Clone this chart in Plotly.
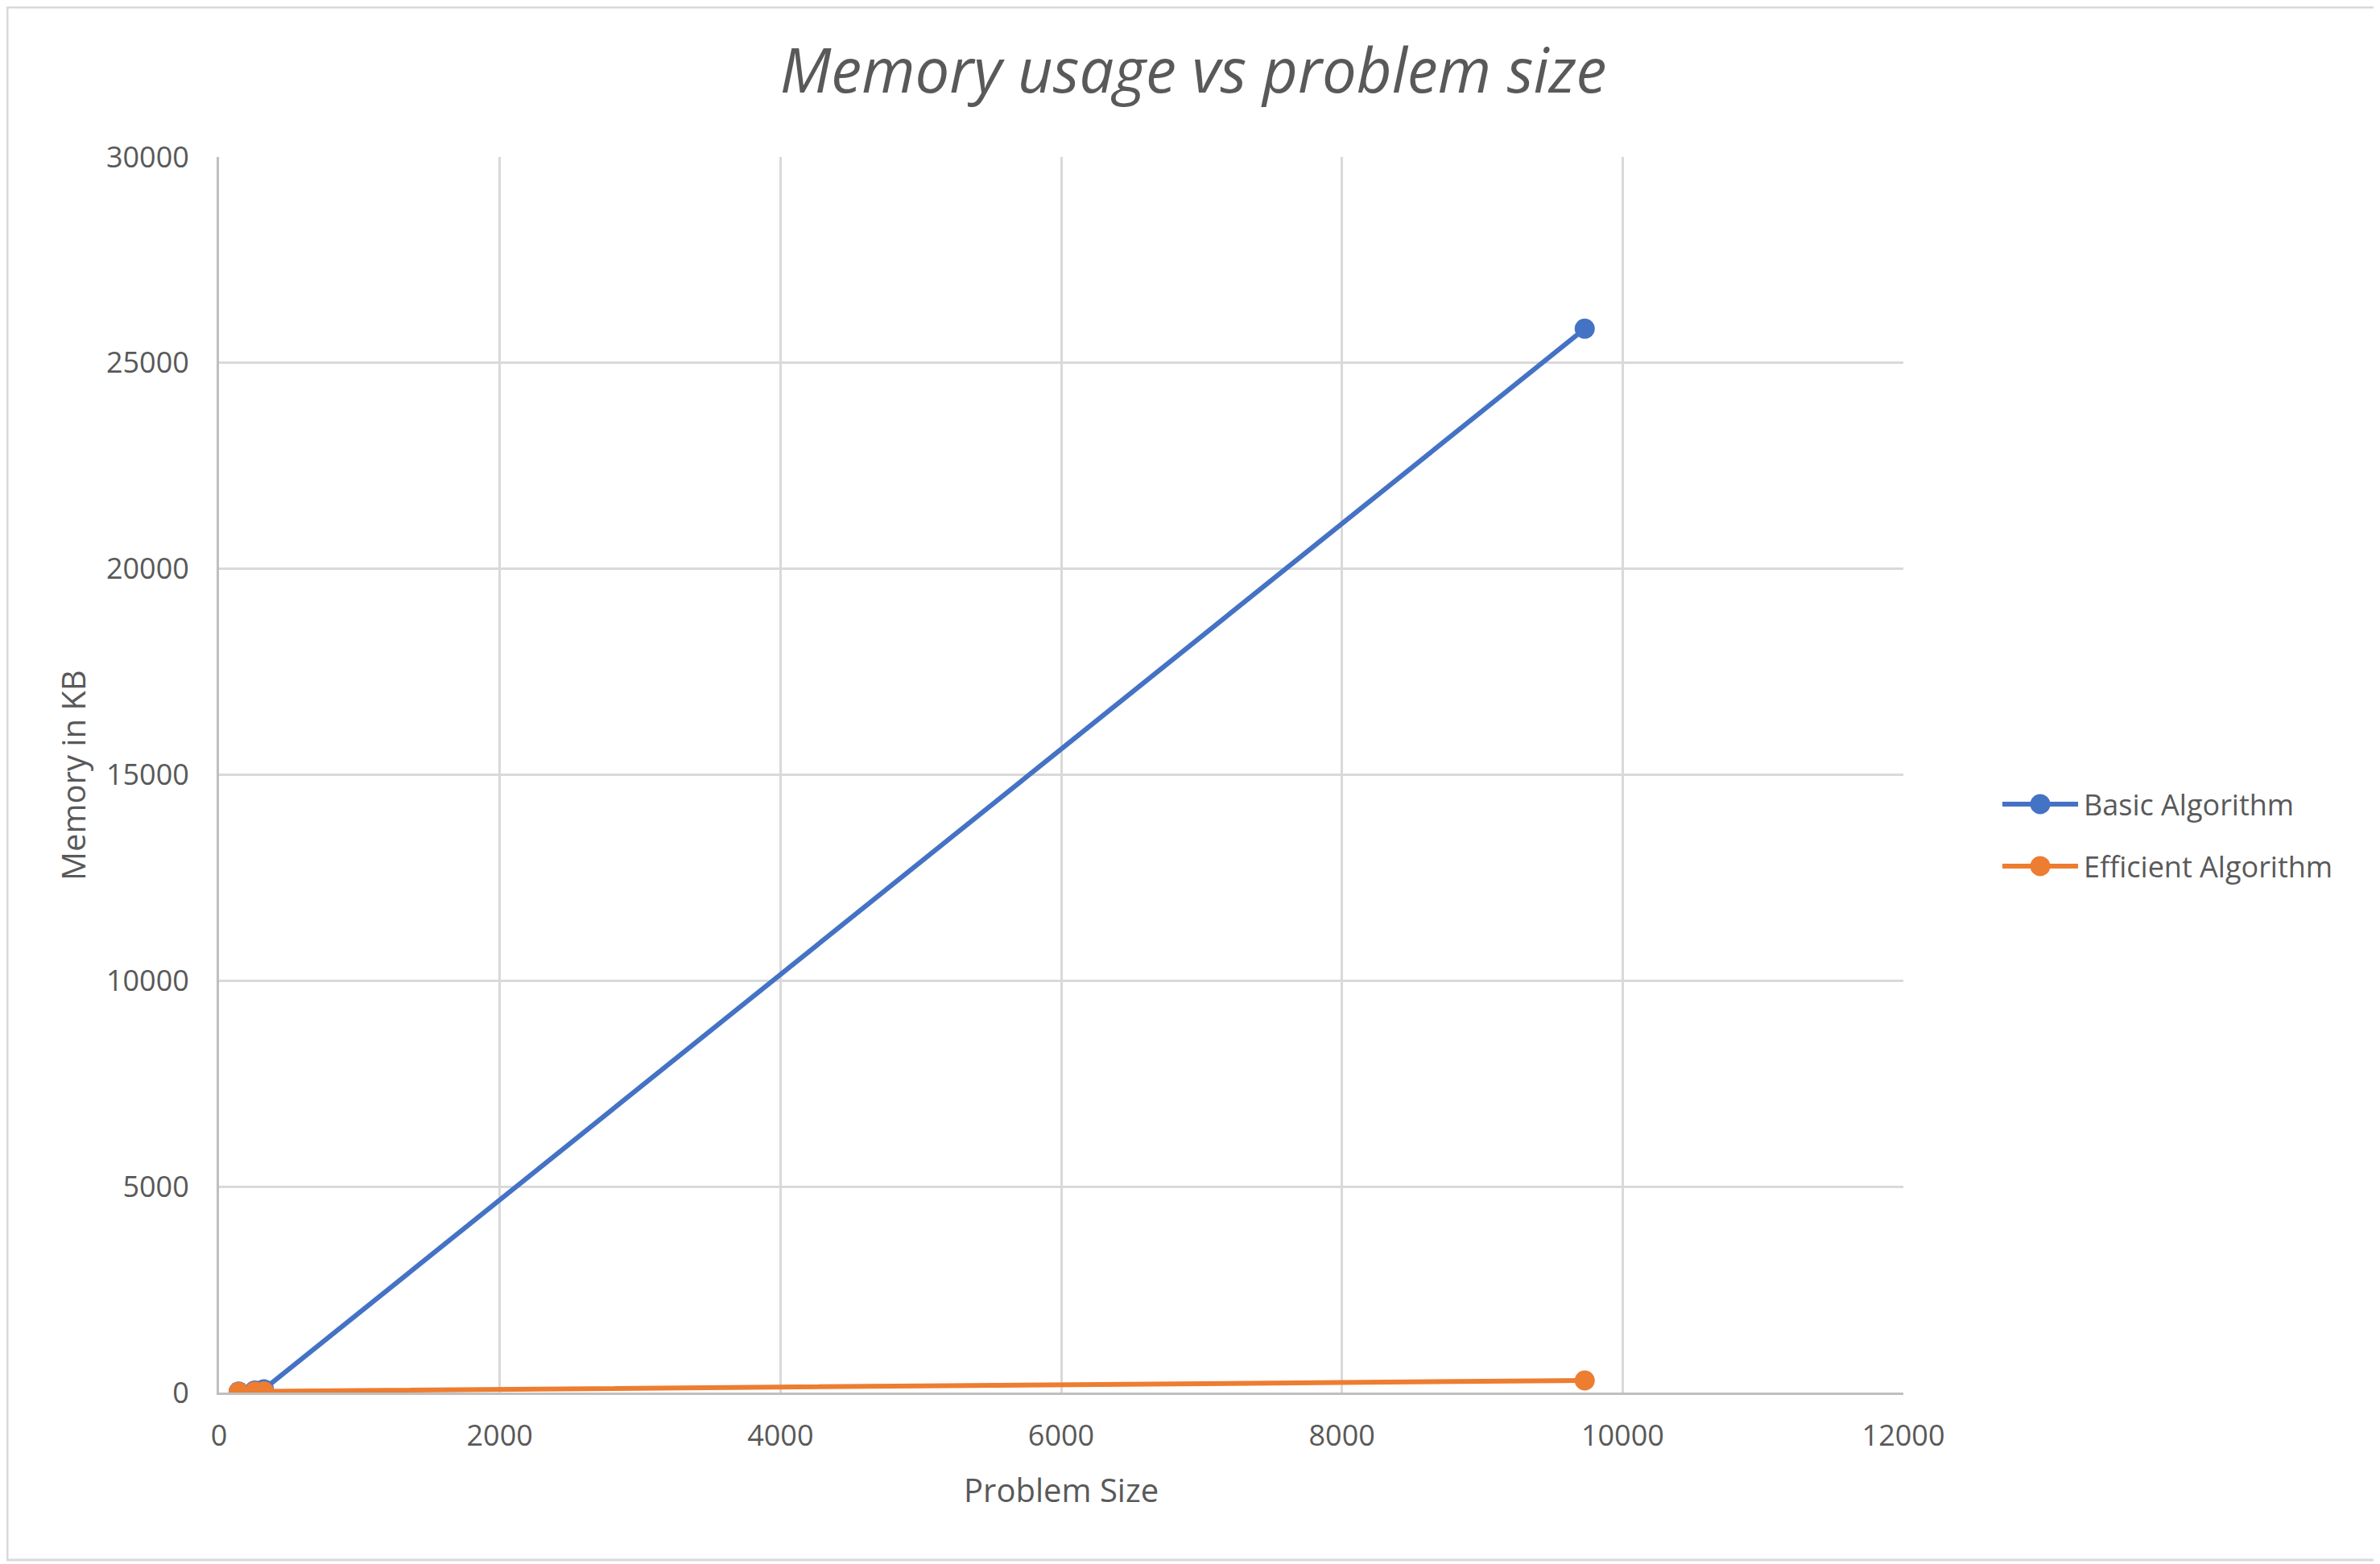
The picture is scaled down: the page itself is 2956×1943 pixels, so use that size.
import plotly.graph_objects as go

problem_size = [140, 255, 320, 9730]
basic_memory = [25, 50, 80, 25830]
efficient_memory = [15, 25, 30, 293]
series_names = ["Basic Algorithm", "Efficient Algorithm"]
series_colors = ["#4472C4", "#ED7D31"]
x_ticks = [0, 2000, 4000, 6000, 8000, 10000, 12000]
y_ticks = [0, 5000, 10000, 15000, 20000, 25000, 30000]

# page geometry (browser body has an 8px margin)
OFF = 8
PW, PH = 2956, 1943
W, H = PW - OFF, PH - OFF
# plot area in page pixels
PL, PR, PT, PB = 272, 2364, 195, 1730
L, T = PL - OFF, PT - OFF
R, B = W - (PR - OFF), H - (PB - OFF)
pw, ph = PR - PL, PB - PT

TXT = "#595959"
FONT = "Open Sans"


def px(p):  # page x pixel -> paper
    return (p - PL) / pw


def py(p):  # page y pixel -> paper
    return (PB - p) / ph


fig = go.Figure()
fig.add_trace(go.Scatter(
    x=problem_size, y=basic_memory, name=series_names[0], mode="lines+markers",
    line=dict(color=series_colors[0], width=6), marker=dict(size=25, color=series_colors[0])))
fig.add_trace(go.Scatter(
    x=problem_size, y=efficient_memory, name=series_names[1], mode="lines+markers",
    line=dict(color=series_colors[1], width=6), marker=dict(size=25, color=series_colors[1])))

fig.update_layout(
    width=W, height=H,
    margin=dict(l=L, r=R, t=T, b=B),
    paper_bgcolor="white", plot_bgcolor="white",
    font=dict(family=FONT, color=TXT, size=36),
    title=dict(text="<i>Memory usage vs problem size</i>", x=0.5, xanchor="center",
               y=1 - (88 - OFF) / H, yanchor="middle",
               font=dict(family=FONT, size=76, color=TXT)),
    xaxis=dict(range=[0, 12000], tickvals=x_ticks, tickformat="d", showgrid=True,
               gridcolor="#d9d9d9", gridwidth=3, showline=True, linecolor="#bfbfbf",
               linewidth=3, zeroline=False, ticks="", ticklabelstandoff=20,
               tickfont=dict(size=36, color=TXT)),
    yaxis=dict(range=[0, 30000], tickvals=y_ticks, tickformat="d", showgrid=True,
               gridcolor="#d9d9d9", gridwidth=3, showline=True, linecolor="#bfbfbf",
               linewidth=3, zeroline=False, ticks="", ticklabelstandoff=27,
               tickfont=dict(size=36, color=TXT)),
    showlegend=False,
)

# axis titles
fig.add_annotation(text="Problem Size", xref="paper", yref="paper",
                   x=0.5, y=py(1850), xanchor="center", yanchor="middle",
                   showarrow=False, font=dict(size=40, color=TXT))
fig.add_annotation(text="Memory in KB", xref="paper", yref="paper",
                   x=px(90), y=py(963), xanchor="center", yanchor="middle",
                   showarrow=False, textangle=-90, font=dict(size=40, color=TXT))

# custom legend (line + large marker + label)
legend_rows = [999, 1076]
for name, color, yrow in zip(series_names, series_colors, legend_rows):
    fig.add_shape(type="line", xref="paper", yref="paper",
                  x0=px(2487), x1=px(2581), y0=py(yrow), y1=py(yrow),
                  line=dict(color=color, width=6))
    fig.add_shape(type="circle", xref="paper", yref="paper",
                  x0=px(2534 - 12.5), x1=px(2534 + 12.5),
                  y0=py(yrow + 12.5), y1=py(yrow - 12.5),
                  line=dict(color=color, width=0), fillcolor=color)
    fig.add_annotation(text=name, xref="paper", yref="paper",
                       x=px(2586), y=py(yrow), xanchor="left", yanchor="middle",
                       showarrow=False, font=dict(size=36, color=TXT))

# outer chart border
fig.add_shape(type="rect", xref="paper", yref="paper",
              x0=px(OFF + 1), x1=px(PW - 5),
              y0=py(PH - 5), y1=py(OFF + 1),
              line=dict(color="#d9d9d9", width=3), fillcolor="rgba(0,0,0,0)", layer="below")

fig.write_html("out.html")
